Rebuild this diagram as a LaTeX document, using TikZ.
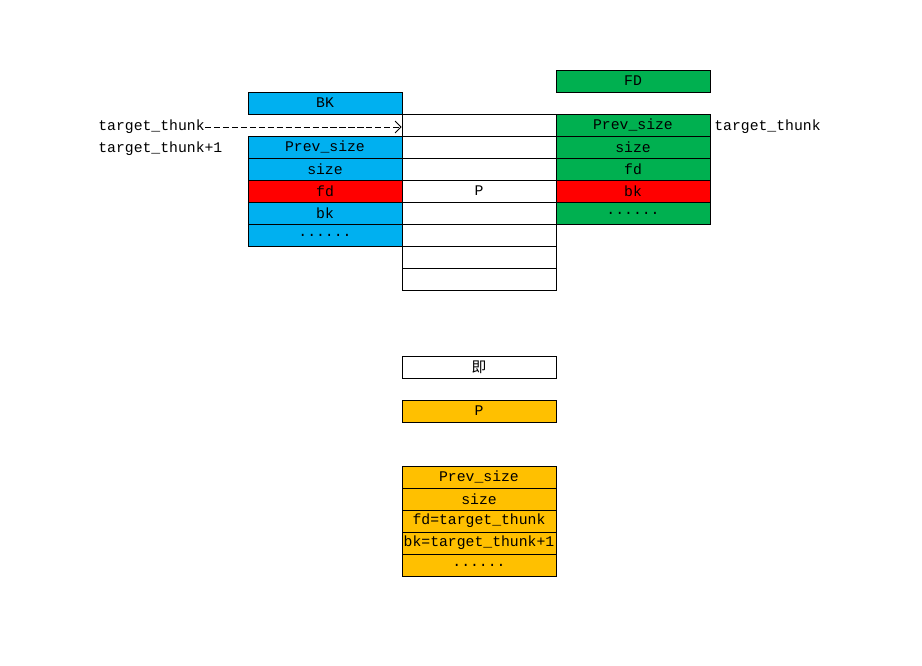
\documentclass[tikz,border=0pt]{standalone}
\usepackage{fontspec}
\setmainfont{Liberation Mono}
\newfontfamily\cjk{Noto Sans CJK SC}
\usepackage{tikz}
\usetikzlibrary{arrows.meta,positioning,calc}
\definecolor{chunkblue}{RGB}{0,176,240}
\definecolor{chunkgreen}{RGB}{0,176,80}
\definecolor{chunkred}{RGB}{255,0,0}
\definecolor{chunkorange}{RGB}{255,192,0}

\begin{document}
\begin{tikzpicture}[
    cell/.style={rectangle, draw, line width=0.45pt, minimum width=3.08cm, minimum height=0.44cm, inner sep=0pt, font=\fontsize{8.4}{10}\selectfont},
    lbl/.style={anchor=west, inner sep=0pt, font=\fontsize{8.4}{10}\selectfont},
    arrow/.style={-{Straight Barb[length=1.2mm, width=2.4mm]}, dash pattern=on 3.5pt off 1.6pt, line width=0.45pt}
]
\useasboundingbox (0,0) rectangle (18.44,-13.3);

% Middle column
\foreach \i/\y in {1/-2.5, 2/-2.94, 3/-3.38, 4/-3.82, 5/-4.26, 6/-4.70, 7/-5.14, 8/-5.58}
    \node[cell] (m\i) at (9.58, \y) {};
\node at (m4) {\fontsize{8.4}{10}\selectfont P};

% Left chunk (BK)
\node[cell, fill=chunkblue] (bkhead) at (6.5, -2.06) {BK};
\node[cell, fill=chunkblue] (lprev) at (6.5, -2.94) {Prev\_size};
\node[cell, fill=chunkblue] (lsize) at (6.5, -3.38) {size};
\node[cell, fill=chunkred] (lfd) at (6.5, -3.82) {fd};
\node[cell, fill=chunkblue] (lbk) at (6.5, -4.26) {bk};
\node[cell, fill=chunkblue] (ldots) at (6.5, -4.70) {......};

% Right chunk (FD)
\node[cell, fill=chunkgreen] (fdhead) at (12.66, -1.62) {FD};
\node[cell, fill=chunkgreen] (rprev) at (12.66, -2.5) {Prev\_size};
\node[cell, fill=chunkgreen] (rsize) at (12.66, -2.94) {size};
\node[cell, fill=chunkgreen] (rfd) at (12.66, -3.38) {fd};
\node[cell, fill=chunkred] (rbk) at (12.66, -3.82) {bk};
\node[cell, fill=chunkgreen] (rdots) at (12.66, -4.26) {......};

% Labels
\node[lbl] (tt) at (1.96, -2.54) {target\_thunk};
\node[lbl] (ttone) at (1.96, -2.98) {target\_thunk+1};
\node[lbl] (ttright) at (14.28, -2.54) {target\_thunk};
\draw[arrow] (tt.east) -- (tt.east -| m1.west);

% Result
\node[cell] (ji) at (9.58, -7.34) {\cjk 即};
\node[cell, fill=chunkorange] (pnew) at (9.58, -8.22) {P};
\node[cell, fill=chunkorange] (oprev) at (9.58, -9.54) {Prev\_size};
\node[cell, fill=chunkorange] (osize) at (9.58, -9.98) {size};
\node[cell, fill=chunkorange] (ofd) at (9.58, -10.42) {fd=target\_thunk};
\node[cell, fill=chunkorange] (obk) at (9.58, -10.86) {bk=target\_thunk+1};
\node[cell, fill=chunkorange] (odots) at (9.58, -11.30) {......};

\end{tikzpicture}
\end{document}
